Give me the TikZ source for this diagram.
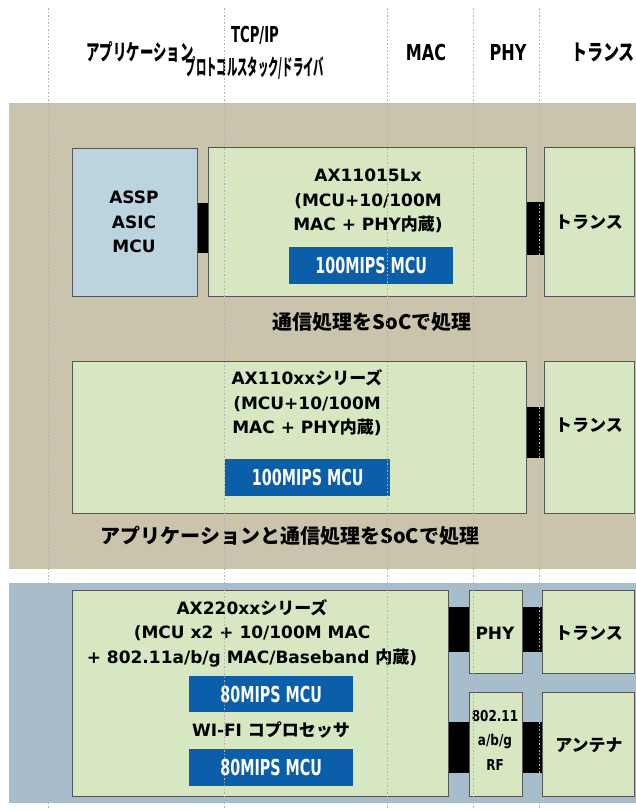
\documentclass[tikz,border=0pt]{standalone}
\usepackage{fontspec}
\setmainfont{DejaVu Sans}
\newfontfamily\jp{Noto Sans CJK JP}
\usetikzlibrary{positioning}
\definecolor{bandtan}{RGB}{201,196,171}
\definecolor{bandblue}{RGB}{168,189,204}
\definecolor{chipgreen}{RGB}{214,231,193}
\definecolor{asspblue}{RGB}{188,211,224}
\definecolor{mcublue}{RGB}{11,94,170}
\definecolor{edgegray}{RGB}{85,85,85}
\newcommand\squeeze[2]{\scalebox{#1}[1]{#2}}
\tikzset{
  blk/.style={draw=edgegray, line width=1.4pt, fill=chipgreen, anchor=north west, inner sep=0pt},
  mcu/.style={fill=mcublue, text=white, anchor=north west, inner sep=0pt, font=\bfseries\fontsize{22}{22}\selectfont},
  lbl/.style={font=\bfseries\fontsize{17}{24.5}\selectfont, align=center, inner sep=0pt},
  hdr/.style={font=\bfseries\fontsize{22}{22}\selectfont, inner sep=0pt},
  capline/.style={font=\jp\bfseries\fontsize{20}{20}\selectfont, inner sep=0pt},
  link/.style={fill=black},
  guide/.style={gray!60, line width=0.8pt, dash pattern=on 1.5pt off 2pt}
}
\begin{document}
\begin{tikzpicture}[x=1pt, y=-1pt]
\useasboundingbox (0,0) rectangle (636,809);
% bands
\fill[bandtan] (9,103) rectangle (636,569);
\fill[bandblue] (9,583) rectangle (636,803);
% header
\node[hdr] (happ) at (140,52) {\jp\squeeze{0.61}{アプリケーション}};
\node[hdr] (htcp) at (255,35) {\squeeze{0.6}{TCP/IP}};
\node[hdr] (hstack) at (255,68) {\jp\squeeze{0.47}{プロトコルスタック/ドライバ}};
\node[hdr] (hmac) at (426,52) {\squeeze{0.73}{MAC}};
\node[hdr] (hphy) at (508,52) {\squeeze{0.73}{PHY}};
\node[hdr] (htrans) at (603,52) {\jp\squeeze{0.73}{トランス}};
% row 1
\node[blk, fill=asspblue, minimum width=125, minimum height=148] (assp) at (72,148) {};
\node[blk, minimum width=318, minimum height=149] (ax1) at (208,147) {};
\node[blk, minimum width=90, minimum height=149] (tr1) at (544,147) {};
\fill[link] (assp.east |- 0,203) rectangle (ax1.west |- 0,253);
\fill[link] (ax1.east |- 0,202) rectangle (tr1.west |- 0,255);
\node[mcu, minimum width=164, minimum height=37] (mcu1) at (289,247) {\squeeze{0.65}{100MIPS MCU}};
\node[lbl] (assptxt) at (134,222) {ASSP\\ASIC\\MCU};
\node[lbl] (ax1txt) at (368,201) {AX11015Lx\\(MCU+10/100M\\MAC + PHY{\jp 内蔵})};
\node[lbl] (tr1txt) at (589,222) {\jp トランス};
\node[capline] (cap1) at (372,322) {通信処理をSoCで処理};
% row 2
\node[blk, minimum width=454, minimum height=152] (ax2) at (72,361) {};
\node[blk, minimum width=90, minimum height=152] (tr2) at (544,361) {};
\fill[link] (ax2.east |- 0,407) rectangle (tr2.west |- 0,458);
\node[mcu, minimum width=165, minimum height=37] (mcu2) at (225,459) {\squeeze{0.65}{100MIPS MCU}};
\node[lbl] (ax2txt) at (307,403) {AX110xx{\jp シリーズ}\\(MCU+10/100M\\MAC + PHY{\jp 内蔵})};
\node[lbl] (tr2txt) at (589,425) {\jp トランス};
\node[capline] (cap2) at (290,536) {アプリケーションと通信処理をSoCで処理};
% row 3
\node[blk, minimum width=376, minimum height=206] (ax3) at (72,590) {};
\node[blk, minimum width=53, minimum height=83] (phy) at (469,590) {};
\node[blk, minimum width=92, minimum height=83] (tr3) at (542,590) {};
\node[blk, minimum width=53, minimum height=104] (rf) at (469,692) {};
\node[blk, minimum width=92, minimum height=104] (ant) at (542,692) {};
\fill[link] (ax3.east |- 0,607) rectangle (phy.west |- 0,652);
\fill[link] (phy.east |- 0,607) rectangle (tr3.west |- 0,652);
\fill[link] (ax3.east |- 0,722) rectangle (rf.west |- 0,773);
\fill[link] (rf.east |- 0,722) rectangle (ant.west |- 0,773);
\node[mcu, minimum width=164, minimum height=36] (mcu3) at (189,676) {\squeeze{0.65}{80MIPS MCU}};
\node[mcu, minimum width=164, minimum height=37] (mcu4) at (189,749) {\squeeze{0.65}{80MIPS MCU}};
\node[lbl] (ax3txt) at (252,633) {AX220xx{\jp シリーズ}\\(MCU x2 + 10/100M MAC\\+ 802.11a/b/g MAC/Baseband {\jp 内蔵})};
\node[lbl] (wifi) at (271,730) {WI-FI {\jp コプロセッサ}};
\node[lbl] (phytxt) at (495,633) {PHY};
\node[lbl] (tr3txt) at (589,633) {\jp トランス};
\node[lbl, font=\bfseries\fontsize{15}{24.5}\selectfont] (rftxt) at (495,740) {\squeeze{0.8}{802.11}\\\squeeze{0.8}{a/b/g}\\\squeeze{0.8}{RF}};
\node[lbl] (anttxt) at (589,745) {\jp アンテナ};
% column guides
\foreach \gx in {48,224,387,473,539}
  \draw[guide] (\gx,8) -- (\gx,809);
\end{tikzpicture}
\end{document}
